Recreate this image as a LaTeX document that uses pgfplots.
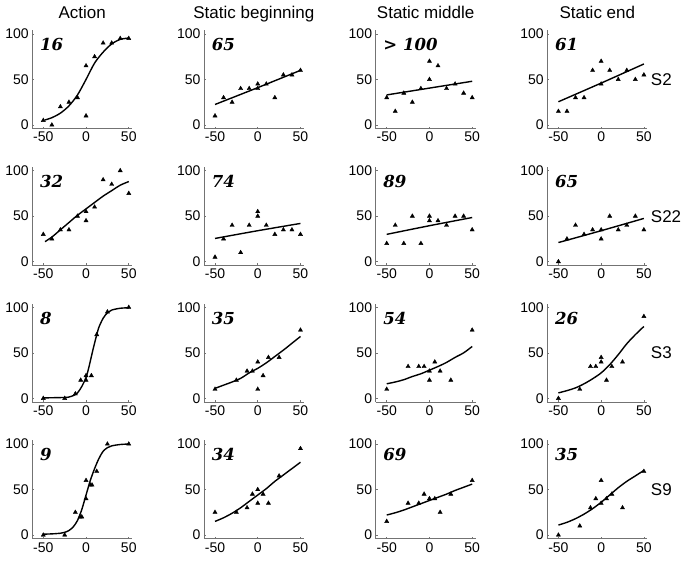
\documentclass[border=0pt]{standalone}
\usepackage{fontspec}
\setmainfont{Liberation Sans}
\newfontfamily\numfont{DejaVu Serif}
\usepackage{pgfplots}
\pgfplotsset{compat=1.18}
\pgfplotsset{
  panel/.style={scale only axis, width=100pt, height=98.3pt,
    xmin=-63, xmax=54, ymin=-4, ymax=104,
    axis x line*=bottom, axis y line*=left,
    xtick={-50,0,50}, ytick={0,50,100},
    tick align=inside, major tick length=2pt,
    axis line style={black!55, line width=0.7pt},
    tick style={black!55, line width=0.6pt},
    ticklabel style={font=\fontsize{14}{16}\selectfont},
    /pgf/number format/assume math mode=true,
    clip=false, anchor=south west,
    every axis title shift=0pt,
    title style={font=\fontsize{17}{19}\selectfont, anchor=base, yshift=11.5pt}},
  fit/.style={black, line width=1.4pt, smooth},
  pts/.style={only marks, mark=triangle*, mark size=2.4pt, black},
}
\newcommand\num[1]{\node[anchor=west, inner sep=0pt, font=\numfont\bfseries\itshape\fontsize{16.5}{18}\selectfont] at (axis cs:-54,88) {#1};}
\newcommand\subj[1]{\node[anchor=west, inner sep=0pt, font=\fontsize{17}{19}\selectfont] at (axis cs:58,50) {#1};}
\begin{document}
\begin{tikzpicture}
% ---------------- Row 1 ----------------
\begin{axis}[panel, at={(32.2pt,-128.6pt)}, title={Action}]
\addplot[fit] coordinates {(-48,5.5)(-40,8)(-30,13)(-20,21)(-10,33)(0,50)(10,68)(20,80)(30,89)(40,94)(50,95.5)};
\addplot[pts] coordinates {(-50,5)(-40,0)(-30,20)(-20,25)(-10,30)(0,65)(0,10)(10,75)(20,90)(30,90)(40,95)(50,95)};
\num{16}
\end{axis}
\begin{axis}[panel, at={(203.9pt,-128.6pt)}, title={Static beginning}]
\addplot[fit] coordinates {(-50,22.5)(0,41)(50,60)};
\addplot[pts] coordinates {(-50,10)(-40,30)(-30,25)(-20,40)(-10,40)(0,45)(0,40)(10,45)(20,30)(30,55)(40,55)(50,60)};
\num{65}
\end{axis}
\begin{axis}[panel, at={(375.6pt,-128.6pt)}, title={Static middle}]
\addplot[fit] coordinates {(-50,33)(0,40.5)(50,48)};
\addplot[pts] coordinates {(-50,30)(-40,15)(-30,35)(-20,25)(-10,40)(0,70)(0,50)(10,65)(20,40)(30,45)(40,35)(50,30)};
\num{> 100}
\end{axis}
\begin{axis}[panel, at={(547.3pt,-128.6pt)}, title={Static end}]
\addplot[fit] coordinates {(-50,25.5)(0,46)(50,67)};
\addplot[pts] coordinates {(-50,15)(-40,15)(-30,30)(-20,30)(-10,60)(0,70)(0,45)(10,60)(20,50)(30,60)(40,50)(50,55)};
\num{61}
\subj{S2}
\end{axis}
% ---------------- Row 2 ----------------
\begin{axis}[panel, at={(32.2pt,-265.3pt)}]
\addplot[fit] coordinates {(-48,22)(-40,27)(-30,35)(-20,43)(-10,51)(0,58)(10,65)(20,72)(30,78)(40,84)(50,88)};
\addplot[pts] coordinates {(-50,30)(-40,25)(-30,35)(-20,35)(-10,50)(0,55)(0,45)(10,60)(20,90)(30,85)(40,100)(50,75)};
\num{32}
\end{axis}
\begin{axis}[panel, at={(203.9pt,-265.3pt)}]
\addplot[fit] coordinates {(-50,25.5)(0,34)(50,42)};
\addplot[pts] coordinates {(-50,5)(-40,25)(-30,40)(-20,10)(-10,40)(0,55)(0,50)(10,40)(20,30)(30,35)(40,35)(50,30)};
\num{74}
\end{axis}
\begin{axis}[panel, at={(375.6pt,-265.3pt)}]
\addplot[fit] coordinates {(-50,30)(0,39.5)(50,48.5)};
\addplot[pts] coordinates {(-50,20)(-40,40)(-30,20)(-20,50)(-10,20)(0,50)(0,45)(10,45)(20,40)(30,50)(40,50)(50,35)};
\num{89}
\end{axis}
\begin{axis}[panel, at={(547.3pt,-265.3pt)}]
\addplot[fit] coordinates {(-50,21)(0,34)(50,47.5)};
\addplot[pts] coordinates {(-50,0)(-40,25)(-30,40)(-20,30)(-10,35)(0,35)(0,25)(10,50)(20,35)(30,40)(40,50)(50,35)};
\num{65}
\subj{S22}
\end{axis}
% ---------------- Row 3 ----------------
\begin{axis}[panel, at={(32.2pt,-402.0pt)}]
\addplot[fit] coordinates {(-50,0.5)(-25,1)(-20,1.5)(-15,3)(-10,6)(-5,13)(0,23)(3,33)(6,45)(9,57)(12,68)(15,78)(20,88)(25,94)(30,97)(40,99)(50,99.5)};
\addplot[pts] coordinates {(-50,0)(-25,0)(-12.5,5)(-6.25,20)(0,20)(0,25)(6.25,25)(12.5,70)(25,95)(50,100)};
\num{8}
\end{axis}
\begin{axis}[panel, at={(203.9pt,-402.0pt)}]
\addplot[fit] coordinates {(-50,11)(-40,14.5)(-30,18)(-20,22)(-10,28)(0,33)(10,39)(20,46)(30,53)(40,60.5)(50,68)};
\addplot[pts] coordinates {(-50,10)(-25,20)(-12.5,30)(-6.25,30)(0,40)(0,10)(6.25,25)(12.5,45)(25,45)(50,75)};
\num{35}
\end{axis}
\begin{axis}[panel, at={(375.6pt,-402.0pt)}]
\addplot[fit] coordinates {(-50,16)(-40,18)(-30,20.5)(-20,24)(-10,27)(0,31)(10,35)(20,39.5)(30,45)(40,50)(50,57)};
\addplot[pts] coordinates {(-50,10)(-25,35)(-12.5,35)(-6.25,35)(0,30)(0,20)(6.25,40)(12.5,30)(25,20)(50,75)};
\num{54}
\end{axis}
\begin{axis}[panel, at={(547.3pt,-402.0pt)}]
\addplot[fit] coordinates {(-50,6)(-40,8.5)(-30,11.5)(-20,16)(-10,21.5)(0,28)(10,37)(20,48)(30,60)(40,70)(50,79)};
\addplot[pts] coordinates {(-50,0)(-25,10)(-12.5,35)(-6.25,35)(0,45)(0,40)(6.25,20)(12.5,35)(25,40)(50,90)};
\num{26}
\subj{S3}
\end{axis}
% ---------------- Row 4 ----------------
\begin{axis}[panel, at={(32.2pt,-538.7pt)}]
\addplot[fit] coordinates {(-50,1)(-40,1.3)(-30,2)(-25,3)(-20,5)(-15,9)(-10,16)(-5,28)(0,44)(5,60)(10,73)(15,84)(20,92)(25,96)(30,98)(40,99.5)(50,100)};
\addplot[pts] coordinates {(-50,0)(-25,0)(-12.5,25)(-7,20)(-5,20)(0,60)(0,40)(5,55)(7,55)(12.5,70)(25,100)(50,100)};
\num{9}
\end{axis}
\begin{axis}[panel, at={(203.9pt,-538.7pt)}]
\addplot[fit] coordinates {(-50,15)(-40,19)(-30,24)(-20,30)(-10,37)(0,44)(10,51)(20,59)(30,66)(40,73)(50,80)};
\addplot[pts] coordinates {(-50,25)(-25,25)(-12.5,30)(-6.25,45)(0,50)(0,35)(6.25,45)(12.5,35)(25,65)(50,95)};
\num{34}
\end{axis}
\begin{axis}[panel, at={(375.6pt,-538.7pt)}]
\addplot[fit] coordinates {(-50,22)(-40,24.5)(-30,27.5)(-20,31)(-10,34.5)(0,38)(10,41.5)(20,45)(30,49)(40,52.5)(50,56)};
\addplot[pts] coordinates {(-50,15)(-25,35)(-12.5,35)(-6.25,45)(0,40)(6.25,40)(12.5,25)(25,45)(50,60)};
\num{69}
\end{axis}
\begin{axis}[panel, at={(547.3pt,-538.7pt)}]
\addplot[fit] coordinates {(-50,11)(-40,14)(-30,18)(-20,23)(-10,29)(0,36)(10,44)(20,52)(30,59)(40,65)(50,71)};
\addplot[pts] coordinates {(-50,0)(-25,10)(-12.5,30)(-6.25,40)(0,60)(0,35)(6.25,40)(12.5,45)(25,30)(50,70)};
\num{35}
\subj{S9}
\end{axis}
\pgfresetboundingbox
\useasboundingbox (0pt,0pt) rectangle (685pt,-561pt);
\end{tikzpicture}
\end{document}
